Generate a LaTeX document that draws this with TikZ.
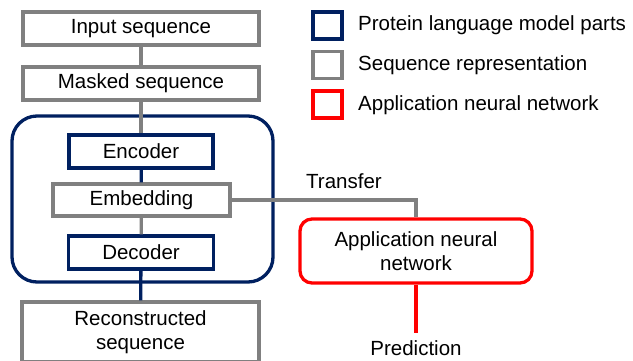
\documentclass[tikz,border=0pt]{standalone}
\usepackage{fontspec}
\setmainfont{Liberation Sans}
\definecolor{plmblue}{RGB}{0,32,96}
\definecolor{seqgray}{RGB}{128,128,128}
\definecolor{appred}{RGB}{255,0,0}

\begin{document}
\begin{tikzpicture}[x=1pt,y=-1pt,
  seqbox/.style={draw=seqgray,line width=3.3pt,fill=white,inner sep=0pt,font=\fontsize{20.5}{24}\selectfont},
  plmbox/.style={draw=plmblue,line width=3.3pt,fill=white,inner sep=0pt,font=\fontsize{20.5}{24}\selectfont},
  appbox/.style={draw=appred,line width=3.3pt,rounded corners=12pt,fill=white,inner sep=0pt,align=center,font=\fontsize{20.5}{24}\selectfont},
  keybox/.style={line width=3.3pt,minimum width=29pt,minimum height=27pt,inner sep=0pt},
  keytext/.style={anchor=west,inner sep=0pt,font=\fontsize{20.5}{24}\selectfont},
  plain/.style={inner sep=0pt,font=\fontsize{20.5}{24}\selectfont},
  seqline/.style={draw=seqgray,line width=3.3pt},
  plmline/.style={draw=plmblue,line width=3.3pt},
  appline/.style={draw=appred,line width=3.3pt}]
  \useasboundingbox (0,0) rectangle (633,360);

  % protein language model frame
  \node[draw=plmblue,line width=3.3pt,rounded corners=25pt,minimum width=261pt,minimum height=166pt,inner sep=0pt] (plm) at (142.5,199) {};

  \node[seqbox,minimum width=236pt,minimum height=33pt] (input) at (141,28.5) {Input sequence};
  \node[seqbox,minimum width=236pt,minimum height=33pt] (masked) at (141,83.5) {Masked sequence};
  \node[plmbox,minimum width=144pt,minimum height=33pt] (enc) at (141,151.5) {Encoder};
  \node[seqbox,minimum width=177pt,minimum height=32pt] (emb) at (141.5,200) {Embedding};
  \node[plmbox,minimum width=145pt,minimum height=33pt] (dec) at (141,252.5) {Decoder};
  \node[seqbox,minimum width=237pt,minimum height=60pt,align=center] (rec) at (140.5,332) {Reconstructed\\sequence};

  \node[appbox,minimum width=232pt,minimum height=64pt] (app) at (416,251) {Application neural\\network};
  \node[plain] (trans) at (344,181) {Transfer};
  \node[plain] (pred) at (416,348.5) {Prediction};
  \coordinate (predtop) at (416,333);

  % legend
  \node[keybox,draw=plmblue] (k1) at (327.5,25.5) {};
  \node[keybox,draw=seqgray] (k2) at (327.5,65) {};
  \node[keybox,draw=appred] (k3) at (327.5,104.5) {};
  \node[keytext] (t1) at (358,25) {Protein language model parts};
  \node[keytext] (t2) at (358,65) {Sequence representation};
  \node[keytext] (t3) at (358,105) {Application neural network};

  \draw[seqline] (input) -- (masked);
  \draw[seqline] (masked) -- (enc);
  \draw[plmline] (enc) -- (emb);
  \draw[seqline] (emb) -- (dec);
  \draw[plmline] (dec) -- (rec);
  \draw[seqline] (emb.east) -| (app.north);
  \draw[appline] (app) -- (predtop);
\end{tikzpicture}
\end{document}
